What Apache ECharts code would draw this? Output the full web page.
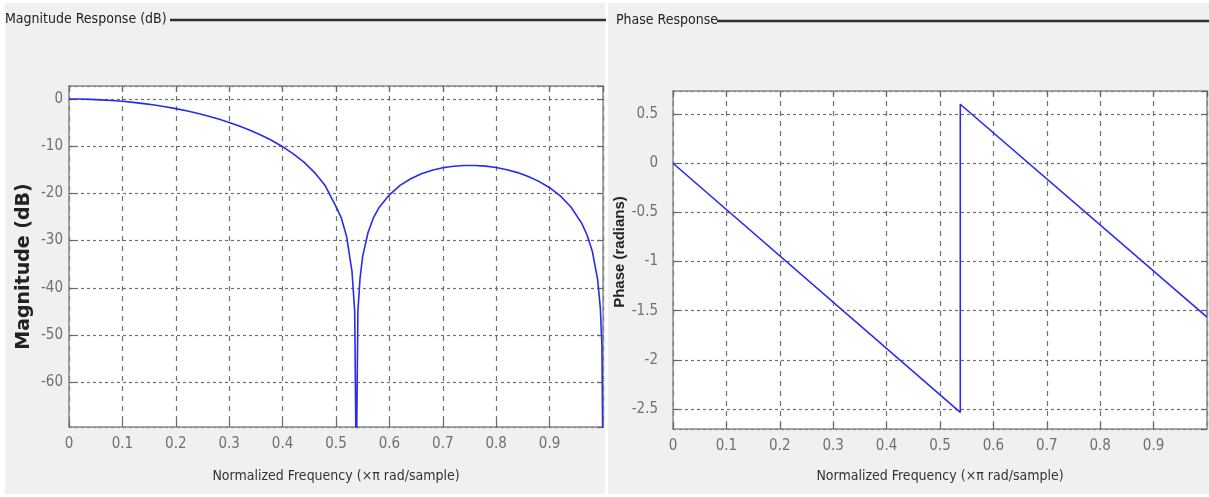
<!DOCTYPE html>
<html><head><meta charset="utf-8">
<script src="https://cdn.jsdelivr.net/npm/echarts@6/dist/echarts.min.js"></script>
<style>html,body{margin:0;padding:0;background:#fff}#c{width:1209px;height:497px}</style>
</head><body><div id="c"></div>
<script>
// ---- data ----
const magFreq = [0, 0.02, 0.04, 0.06, 0.08, 0.10, 0.12, 0.14, 0.16, 0.18, 0.20, 0.22, 0.24, 0.26, 0.28, 0.30,
  0.32, 0.34, 0.36, 0.38, 0.40, 0.42, 0.44, 0.46, 0.48, 0.50, 0.51, 0.52, 0.53, 0.535, 0.538, 0.541, 0.545,
  0.55, 0.56, 0.57, 0.58, 0.60, 0.62, 0.64, 0.66, 0.68, 0.70, 0.72, 0.74, 0.76, 0.78, 0.80, 0.82, 0.84,
  0.86, 0.88, 0.90, 0.92, 0.94, 0.96, 0.97, 0.98, 0.99, 0.995, 0.998, 1.0];
const magDb = [0, -0.02, -0.08, -0.18, -0.32, -0.49, -0.72, -0.98, -1.29, -1.65, -2.05, -2.51, -3.03, -3.60, -4.25, -4.97,
  -5.77, -6.67, -7.67, -8.81, -10.11, -11.62, -13.39, -15.6, -18.4, -22.8, -25.2, -29.2, -36.6, -45.0, -80, -45.0, -38.0,
  -33.3, -28.3, -25.2, -23.1, -20.3, -18.3, -16.9, -15.84, -15.10, -14.58, -14.25, -14.09, -14.08, -14.23, -14.52, -14.98, -15.60,
  -16.41, -17.46, -18.80, -20.54, -22.89, -26.31, -28.77, -32.26, -38.27, -44.3, -52.2, -80];
const phaseFreq = [0, 0.538, 0.538, 1.0];
const phaseRad = [0, -2.535, 0.600, -1.565];
const xTickLabels = ['0', '0.1', '0.2', '0.3', '0.4', '0.5', '0.6', '0.7', '0.8', '0.9'];
const titles = ['Magnitude Response (dB)', 'Phase Response'];
const yNames = ['Magnitude (dB)', 'Phase (radians)'];
const xName = 'Normalized Frequency (\u00d7\u03c0 rad/sample)';

// ---- styling ----
const NARROW = "'Liberation Sans Narrow', 'Arial Narrow', 'DejaVu Sans Condensed', sans-serif";
const BOX = '#8a8a8a';
const GRIDC = '#707070';
const LINE = '#2a2af0';

function xLabelFmt(v) {
  const i = Math.round(v * 10);
  return (i >= 0 && i < xTickLabels.length) ? xTickLabels[i] : '';
}

function xAxes(gi, nameGap) {
  return [{
    gridIndex: gi, type: 'value', min: 0, max: 1, interval: 0.1, position: 'bottom',
    name: xName, nameLocation: 'middle', nameGap: nameGap,
    nameTextStyle: { fontFamily: NARROW, fontSize: 14, color: '#333' },
    axisLine: { show: true, onZero: false, lineStyle: { color: BOX, width: 1.5 } },
    axisTick: { show: true, inside: true, length: 6, lineStyle: { color: '#666', width: 1.2 } },
    axisLabel: { show: true, margin: 10, fontFamily: NARROW, fontSize: 15, color: '#707070',
      showMaxLabel: false, formatter: xLabelFmt },
    splitLine: { show: true, lineStyle: { color: GRIDC, type: [5, 5], width: 1.2 } }
  }, {
    gridIndex: gi, type: 'value', min: 0, max: 1, interval: 0.1, position: 'top',
    axisLine: { show: true, onZero: false, lineStyle: { color: BOX, width: 1.5 } },
    axisTick: { show: true, inside: true, length: 6, lineStyle: { color: '#666', width: 1.2 } },
    axisLabel: { show: false }, splitLine: { show: false }
  }];
}

function yAxes(gi, min, max, step, nameGap, labelMargin, nameFont) {
  return [{
    gridIndex: gi, type: 'value', min: min, max: max, minInterval: step, maxInterval: step, position: 'left',
    name: yNames[gi], nameLocation: 'middle', nameGap: nameGap, nameRotate: 90,
    nameTextStyle: nameFont,
    axisLine: { show: true, onZero: false, lineStyle: { color: BOX, width: 1.5 } },
    axisTick: { show: true, inside: true, length: 6, lineStyle: { color: '#666', width: 1.2 } },
    axisLabel: { show: true, margin: labelMargin, fontFamily: NARROW, fontSize: 15, color: '#707070',
      showMinLabel: false, showMaxLabel: false },
    splitLine: { show: true, lineStyle: { color: GRIDC, type: [3, 3], width: 1.2 } }
  }, {
    gridIndex: gi, type: 'value', min: min, max: max, minInterval: step, maxInterval: step, position: 'right',
    axisLine: { show: true, onZero: false, lineStyle: { color: BOX, width: 1.5 } },
    axisTick: { show: true, inside: true, length: 6, lineStyle: { color: '#666', width: 1.2 } },
    axisLabel: { show: false }, splitLine: { show: false }
  }];
}

const magData = magFreq.map((f, i) => [f, magDb[i]]);
const phaseData = phaseFreq.map((f, i) => [f, phaseRad[i]]);

const chart = echarts.init(document.getElementById('c'), null, { renderer: 'canvas' });
chart.setOption({
  animation: false,
  backgroundColor: '#ffffff',
  graphic: [
    { type: 'rect', z: -100, shape: { x: 5, y: 3, width: 600, height: 491 }, style: { fill: '#f0f0f0' } },
    { type: 'rect', z: -100, shape: { x: 608, y: 3, width: 601, height: 491 }, style: { fill: '#f0f0f0' } },
    { type: 'text', z: 10, x: 5, y: 19, style: { text: titles[0], fontFamily: NARROW, fontSize: 14, fill: '#222', verticalAlign: 'middle' } },
    { type: 'line', z: 10, shape: { x1: 170, y1: 20, x2: 606, y2: 20 }, style: { stroke: '#2e2e2e', lineWidth: 2.5 } },
    { type: 'text', z: 10, x: 616, y: 20, style: { text: titles[1], fontFamily: NARROW, fontSize: 14, fill: '#222', verticalAlign: 'middle' } },
    { type: 'line', z: 10, shape: { x1: 717, y1: 21, x2: 1209, y2: 21 }, style: { stroke: '#2e2e2e', lineWidth: 2.5 } }
  ],
  grid: [
    { left: 69, top: 86, width: 534, height: 341, show: true, backgroundColor: '#ffffff', borderWidth: 0 },
    { left: 673, top: 91, width: 534, height: 338, show: true, backgroundColor: '#ffffff', borderWidth: 0 }
  ],
  xAxis: [].concat(xAxes(0, 42), xAxes(1, 40)),
  yAxis: [].concat(
    yAxes(0, -69.5, 2.75, 10, 35, 6, { fontFamily: "'DejaVu Sans', sans-serif", fontWeight: 'bold', fontSize: 19, color: '#222', padding: [0, 20, 0, 0] }),
    yAxes(1, -2.704, 0.735, 0.5, 38, 15, { fontFamily: "'Liberation Sans', sans-serif", fontWeight: 'bold', fontSize: 15, color: '#222', padding: [0, 0, 0, 16] })
  ),
  series: [
    { type: 'line', xAxisIndex: 0, yAxisIndex: 0, data: magData, showSymbol: false, clip: true,
      lineStyle: { color: LINE, width: 1.6 }, z: 5 },
    { type: 'line', xAxisIndex: 2, yAxisIndex: 2, data: phaseData, showSymbol: false, clip: true,
      lineStyle: { color: LINE, width: 1.6 }, z: 5 }
  ]
});
</script></body></html>
